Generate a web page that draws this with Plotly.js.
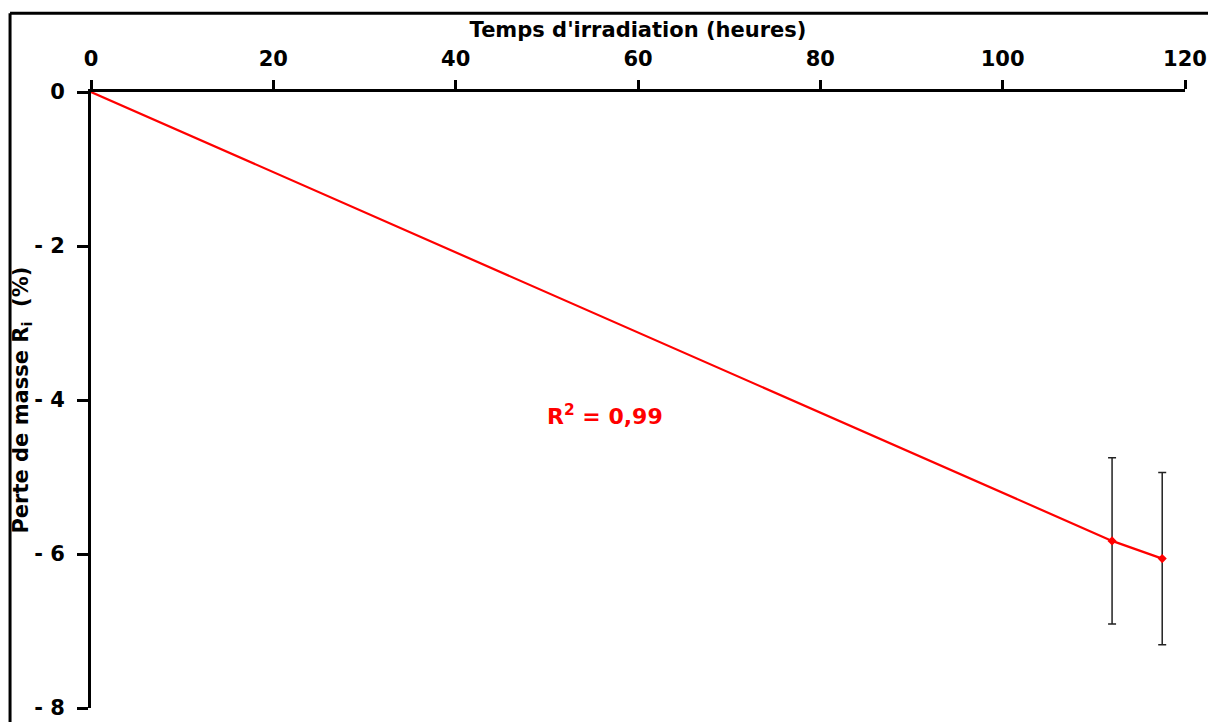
<!DOCTYPE html>
<html>
<head>
<meta charset="utf-8">
<script src="https://cdn.plot.ly/plotly-3.0.1.min.js"></script>
<style>
html,body{margin:0;padding:0;background:#fff;}
#chart{width:1208px;height:722px;}
</style>
</head>
<body>
<div id="chart"></div>
<script>
// Data
const hours = [0, 112, 117.5];
const massLoss = [0, -5.83, -6.06];
const massErr = [0, 1.08, 1.12];
const xTickVals = [0, 20, 40, 60, 80, 100, 120];
const yTickVals = [0, -2, -4, -6, -8];
const yTickText = ['0', '- 2', '- 4', '- 6', '- 8'];
const r2Label = 'R<sup>2</sup> = 0,99';
const r2Pos = {x: 56.4, y: -4.2};
const yTitle = 'Perte de masse R<sub>i</sub>  (%)';

const FONT = '"Comic Sans MS", "DejaVu Sans", sans-serif';

const measIdx = hours.map((h, i) => i).filter(i => massErr[i] > 0);

const traces = [
  {
    x: hours, y: massLoss, mode: 'lines', type: 'scatter',
    line: {color: '#ff0000', width: 2.2}, hoverinfo: 'skip', showlegend: false
  },
  {
    x: measIdx.map(i => hours[i]), y: measIdx.map(i => massLoss[i]),
    mode: 'markers', type: 'scatter',
    marker: {color: '#ff0000', size: 7, symbol: 'diamond'},
    error_y: {type: 'data', array: measIdx.map(i => massErr[i]), visible: true,
              color: '#222222', thickness: 1.5, width: 4},
    showlegend: false
  }
];

const layout = {
  width: 1208, height: 722,
  margin: {l: 91, r: 23, t: 92, b: 14, pad: 0},
  paper_bgcolor: '#ffffff', plot_bgcolor: '#ffffff',
  font: {family: FONT, size: 19, color: '#000'},
  showlegend: false,
  xaxis: {
    side: 'top', range: [0, 120], tickvals: xTickVals,
    showline: true, linecolor: '#000', linewidth: 3,
    ticks: 'outside', ticklen: 9, tickwidth: 3, tickcolor: '#000',
    ticklabelstandoff: 6,
    showgrid: false, zeroline: false,
    tickfont: {family: FONT, size: 21, color: '#000', weight: 'bold'},
    title: {text: "Temps d'irradiation (heures)", standoff: 4,
            font: {family: FONT, size: 21, color: '#000', weight: 'bold'}}
  },
  yaxis: {
    range: [-8, 0], tickvals: yTickVals, ticktext: yTickText,
    showline: true, linecolor: '#000', linewidth: 3,
    ticks: 'outside', ticklen: 11, tickwidth: 3, tickcolor: '#000',
    ticklabelstandoff: 8,
    showgrid: false, zeroline: false,
    tickfont: {family: FONT, size: 21, color: '#000', weight: 'bold'}
  },
  annotations: [
    {
      x: r2Pos.x, y: r2Pos.y, xref: 'x', yref: 'y', text: r2Label, showarrow: false,
      font: {family: FONT, size: 22, color: '#ff0000', weight: 'bold'}
    },
    {
      x: -0.0635, y: 0.5, xref: 'paper', yref: 'paper', text: yTitle, showarrow: false,
      textangle: -90, xanchor: 'center', yanchor: 'middle',
      font: {family: FONT, size: 21, color: '#000', weight: 'bold'}
    }
  ],
  shapes: [
    {type: 'line', xref: 'paper', yref: 'paper', x0: -0.074, x1: -0.074, y0: -0.2, y1: 1.128,
     line: {color: '#000', width: 3}},
    {type: 'line', xref: 'paper', yref: 'paper', x0: -0.074, x1: 1.2, y0: 1.128, y1: 1.128,
     line: {color: '#000', width: 3}}
  ]
};

Plotly.newPlot('chart', traces, layout, {displayModeBar: false, staticPlot: true});
</script>
</body>
</html>
